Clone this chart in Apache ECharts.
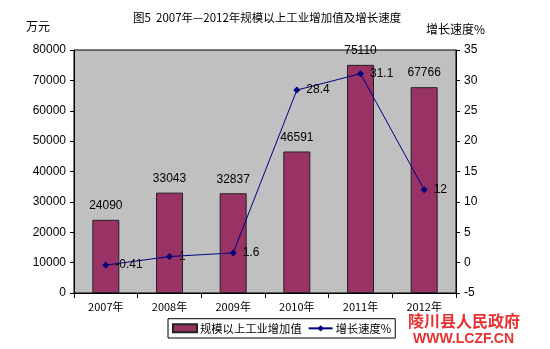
<!DOCTYPE html>
<html><head><meta charset="utf-8">
<script src="https://cdn.jsdelivr.net/npm/echarts@6/dist/echarts.min.js"></script>
<style>html,body{margin:0;padding:0;background:#fff}#c{width:550px;height:349px}</style>
</head><body><div id="c"></div>
<script>
var categories = ['2007年','2008年','2009年','2010年','2011年','2012年'];
var valueAdded = [24090, 33043, 32837, 46591, 75110, 67766];
var growthRate = [-0.41, 1, 1.6, 28.4, 31.1, 12];
var leftTicks = [0, 80000, 10000];
var rightTicks = [-5, 35, 5];

var font = 'SimSun, "Noto Sans CJK SC", Arial, sans-serif';
var chart = echarts.init(document.getElementById('c'));
chart.setOption({
  animation: false,
  backgroundColor: '#fff',
  title: {text: '图5  2007年—2012年规模以上工业增加值及增长速度', left: 128, top: 7,
    textStyle: {fontSize: 11.5, fontWeight: 'normal', color: '#000', fontFamily: font}},
  grid: {left: 74, right: 94, top: 50, bottom: 56, show: true, backgroundColor: '#C0C0C0', borderColor: '#000', borderWidth: 1},
  legend: {bottom: 11, left: 168, itemGap: 6, itemWidth: 24, itemHeight: 8,
    borderColor: '#000', borderWidth: 1, padding: [4, 4, 4, 4], borderRadius: 0,
    textStyle: {fontSize: 11.3, color: '#000', fontFamily: font, padding: [0, 0, 0, -2]},
    data: [{name: '规模以上工业增加值', icon: 'rect'}, {name: '增长速度%'}]},
  xAxis: {type: 'category', data: categories,
    axisLine: {lineStyle: {color: '#000'}}, axisTick: {show: true, lineStyle: {color: '#000'}},
    axisLabel: {color: '#000', fontSize: 11, fontFamily: font, margin: 8}},
  yAxis: [
    {type: 'value', min: leftTicks[0], max: leftTicks[1], interval: leftTicks[2],
     splitLine: {show: false}, axisLine: {show: true, lineStyle: {color: '#000'}},
     axisTick: {show: true, length: 4, lineStyle: {color: '#000'}},
     axisLabel: {color: '#000', fontSize: 12, fontFamily: 'Arial, sans-serif', margin: 8, formatter: function (v) { return String(v); }}},
    {type: 'value', min: rightTicks[0], max: rightTicks[1], interval: rightTicks[2],
     splitLine: {show: false}, axisLine: {show: true, lineStyle: {color: '#000'}},
     axisTick: {show: true, length: 4, lineStyle: {color: '#000'}},
     axisLabel: {color: '#000', fontSize: 12, fontFamily: 'Arial, sans-serif', margin: 8}}
  ],
  series: [
    {name: '规模以上工业增加值', type: 'bar', data: valueAdded, barWidth: 27,
     itemStyle: {color: '#993366', borderColor: '#222', borderWidth: 1},
     label: {show: true, position: 'top', distance: 8, color: '#000', fontSize: 12, fontFamily: 'Arial, sans-serif'}},
    {name: '增长速度%', type: 'line', yAxisIndex: 1, data: growthRate,
     symbol: 'diamond', symbolSize: 7,
     lineStyle: {color: '#000080', width: 1}, itemStyle: {color: '#000080'},
     label: {show: true, position: 'right', distance: 6, color: '#000', fontSize: 12, fontFamily: 'Arial, sans-serif'}}
  ],
  graphic: [
    {type: 'text', left: 26, top: 20, style: {text: '万元', fill: '#000', font: '12px ' + font}},
    {type: 'text', left: 426, top: 23, style: {text: '增长速度%', fill: '#000', font: '12px ' + font}},
    {type: 'text', left: 408, top: 313, style: {text: '陵川县人民政府', fill: '#e83030', font: 'bold 16px "Noto Sans CJK SC", sans-serif'}},
    {type: 'text', left: 413, top: 332, style: {text: 'WWW.LCZF.CN', fill: '#e83030', font: 'bold 14px Arial, sans-serif'}}
  ]
});
</script></body></html>
